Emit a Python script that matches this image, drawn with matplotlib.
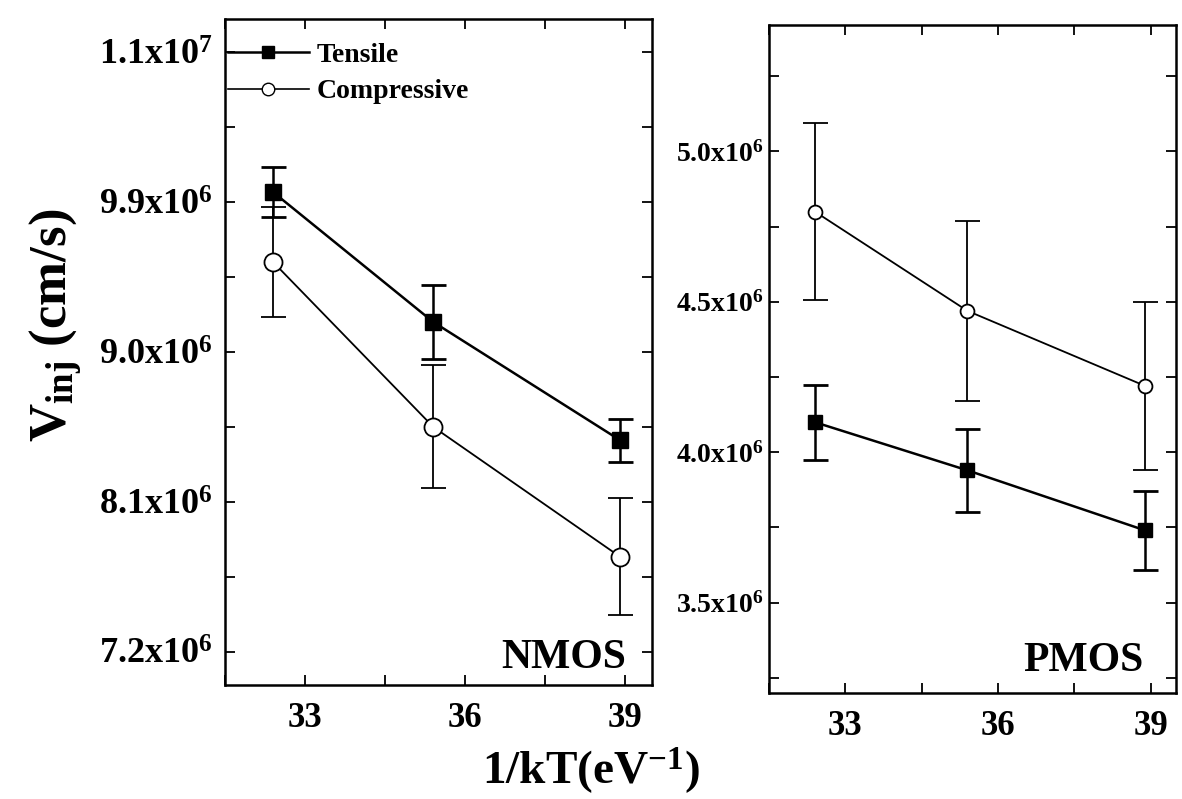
import numpy as np
import matplotlib
matplotlib.use('Agg')
import matplotlib.pyplot as plt
from matplotlib.ticker import FixedLocator
from matplotlib.lines import Line2D

plt.rcParams['font.family'] = ['Liberation Serif', 'DejaVu Serif']
plt.rcParams['font.weight'] = 'bold'
plt.rcParams['mathtext.fontset'] = 'custom'
plt.rcParams['mathtext.rm'] = 'Liberation Serif:bold'
plt.rcParams['mathtext.bf'] = 'Liberation Serif:bold'
plt.rcParams['mathtext.it'] = 'Liberation Serif:bold'

# 1/kT values (eV^-1)
inv_kT = [32.4, 35.4, 38.9]

# NMOS injection velocity (cm/s)
nmos_tensile = [9.96e6, 9.18e6, 8.47e6]
nmos_tensile_err = [0.15e6, 0.22e6, 0.13e6]
nmos_comp = [9.54e6, 8.55e6, 7.77e6]
nmos_comp_err = [0.33e6, 0.37e6, 0.35e6]

# PMOS injection velocity (cm/s)
pmos_tensile = [4.10e6, 3.94e6, 3.74e6]
pmos_tensile_err = [0.125e6, 0.137e6, 0.13e6]
pmos_comp = [4.80e6, 4.47e6, 4.22e6]
pmos_comp_err = [0.295e6, 0.30e6, 0.28e6]

nmos_ticks = [7.2e6, 8.1e6, 9.0e6, 9.9e6, 10.8e6]
nmos_ticklabels = [r'7.2x10$^{6}$', r'8.1x10$^{6}$', r'9.0x10$^{6}$', r'9.9x10$^{6}$', r'1.1x10$^{7}$']
pmos_ticks = [3.5e6, 4.0e6, 4.5e6, 5.0e6]
pmos_ticklabels = [r'3.5x10$^{6}$', r'4.0x10$^{6}$', r'4.5x10$^{6}$', r'5.0x10$^{6}$']
x_ticks = [33, 36, 39]

fig = plt.figure(figsize=(11.82, 7.99), dpi=100)
ax1 = fig.add_axes([0.1904, 0.1427, 0.3613, 0.8336])
ax2 = fig.add_axes([0.6506, 0.1327, 0.3443, 0.836])


def draw(ax, yt, yte, yc, yce, ms_t, ms_c):
    ax.errorbar(inv_kT, yt, yerr=yte, color='black', lw=1.8, marker='s', ms=ms_t,
                mfc='black', mec='black', capsize=9, capthick=2, elinewidth=1.8, zorder=3)
    ax.errorbar(inv_kT, yc, yerr=yce, color='black', lw=1.3, marker='o', ms=ms_c,
                mfc='white', mec='black', mew=1.3, capsize=9, capthick=2, elinewidth=1.3,
                zorder=2)
    ax.set_xlim(31.5, 39.5)
    ax.xaxis.set_major_locator(FixedLocator(x_ticks))
    ax.xaxis.set_minor_locator(FixedLocator([31.5, 34.5, 37.5]))
    ax.tick_params(which='both', direction='in', top=True, right=True, length=7, width=1.3)
    ax.tick_params(axis='x', pad=12)
    for s in ax.spines.values():
        s.set_linewidth(1.8)


draw(ax1, nmos_tensile, nmos_tensile_err, nmos_comp, nmos_comp_err, 11, 13)
ax1.set_ylim(7.0e6, 11.0e6)
ax1.yaxis.set_major_locator(FixedLocator(nmos_ticks))
ax1.yaxis.set_minor_locator(FixedLocator([7.65e6, 8.55e6, 9.45e6, 10.35e6]))
ax1.set_yticklabels(nmos_ticklabels, fontsize=26)
ax1.tick_params(axis='y', pad=9)
ax1.set_xticklabels([str(v) for v in x_ticks], fontsize=25)
ax1.text(0.94, 0.012, 'NMOS', transform=ax1.transAxes, ha='right', va='bottom', fontsize=30)

handles = [Line2D([], [], color='black', lw=1.8, marker='s', ms=9, mfc='black'),
           Line2D([], [], color='black', lw=1.2, marker='o', ms=9, mfc='white', mew=1.0)]
ax1.legend(handles, ['Tensile', 'Compressive'], loc='upper left', bbox_to_anchor=(0.007, 0.965),
           frameon=False, fontsize=20, handlelength=2.9, borderaxespad=0, borderpad=0,
           handletextpad=0.3, labelspacing=0.4)

draw(ax2, pmos_tensile, pmos_tensile_err, pmos_comp, pmos_comp_err, 10, 10)
ax2.set_ylim(3.2e6, 5.42e6)
ax2.yaxis.set_major_locator(FixedLocator(pmos_ticks))
ax2.yaxis.set_minor_locator(FixedLocator([3.25e6, 3.75e6, 4.25e6, 4.75e6, 5.25e6]))
ax2.set_yticklabels(pmos_ticklabels, fontsize=20)
ax2.set_xticklabels([str(v) for v in x_ticks], fontsize=25)
ax2.text(0.92, 0.02, 'PMOS', transform=ax2.transAxes, ha='right', va='bottom', fontsize=30)

fig.text(0.047, 0.593, r'V$_{\mathrm{inj}}$ (cm/s)', rotation=90, ha='center', va='center', fontsize=38)
fig.text(0.5, 0.035, r'1/kT(eV$^{\mathrm{-1}}$)', ha='center', va='center', fontsize=34)

fig.savefig('out.png', dpi=100)
